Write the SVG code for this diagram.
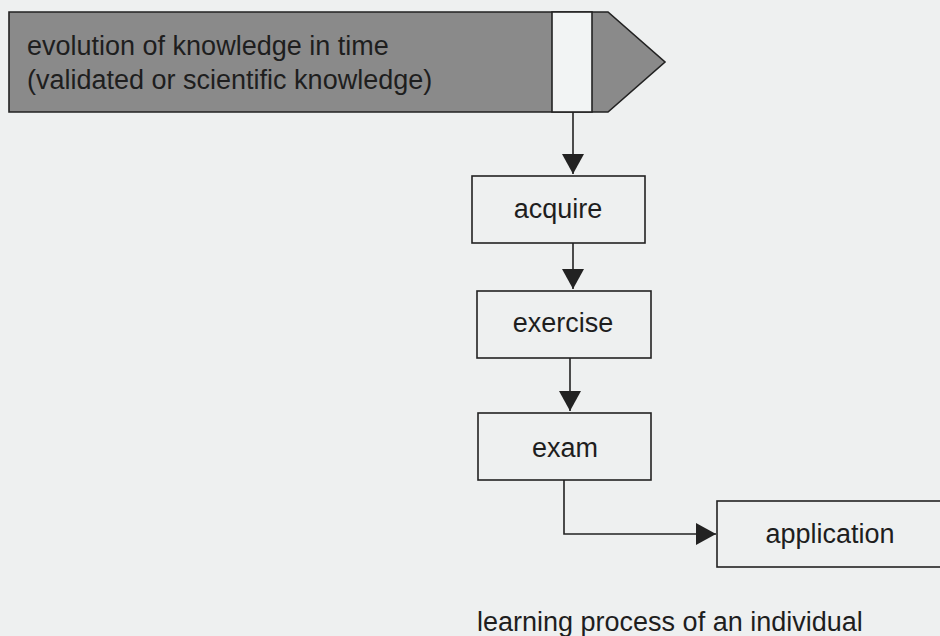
<svg xmlns="http://www.w3.org/2000/svg" width="940" height="636" viewBox="0 0 940 636">
<style>
  .lbl { font-family: "Liberation Sans", Arial, sans-serif; font-size: 27px; fill: #1e1e1e; }
  .box { fill: none; stroke: #222; stroke-width: 1.6; }
  .conn { fill: none; stroke: #222; stroke-width: 1.6; }
</style>
<defs>
  <marker id="ah" viewBox="0 0 20 22" refX="20" refY="11" markerWidth="20" markerHeight="22" markerUnits="userSpaceOnUse" orient="auto">
    <path d="M0,0 L20,11 L0,22 z" fill="#222"/>
  </marker>
</defs>
<rect x="0" y="0" width="940" height="636" fill="#eef0f0"/>
<g id="knowledge">
  <polygon points="9,12 608,12 665,62 608,112 9,112" fill="#8a8a8a" stroke="#222" stroke-width="1.6"/>
  <rect x="552" y="12" width="40" height="100" fill="#f2f4f4" stroke="#222" stroke-width="1.6"/>
  <text class="lbl" x="27" y="55">evolution of knowledge in time</text>
  <text class="lbl" x="27" y="89">(validated or scientific knowledge)</text>
</g>
<g id="acquire">
  <rect class="box" x="472" y="176" width="173" height="67"/>
  <text class="lbl" x="558" y="218" text-anchor="middle">acquire</text>
</g>
<g id="exercise">
  <rect class="box" x="477" y="291" width="174" height="67"/>
  <text class="lbl" x="563" y="332" text-anchor="middle">exercise</text>
</g>
<g id="exam">
  <rect class="box" x="478" y="413" width="173" height="67"/>
  <text class="lbl" x="565" y="457" text-anchor="middle">exam</text>
</g>
<g id="application">
  <rect class="box" x="717" y="501" width="240" height="66"/>
  <text class="lbl" x="830" y="543" text-anchor="middle">application</text>
</g>
<g id="connectors">
  <line class="conn" x1="573" y1="112" x2="573" y2="174" marker-end="url(#ah)"/>
  <line class="conn" x1="573" y1="243" x2="573" y2="289" marker-end="url(#ah)"/>
  <line class="conn" x1="570" y1="358" x2="570" y2="411" marker-end="url(#ah)"/>
  <polyline class="conn" points="564,480 564,534 716,534" marker-end="url(#ah)"/>
</g>
<text class="lbl" x="477" y="631">learning process of an individual</text>
</svg>
